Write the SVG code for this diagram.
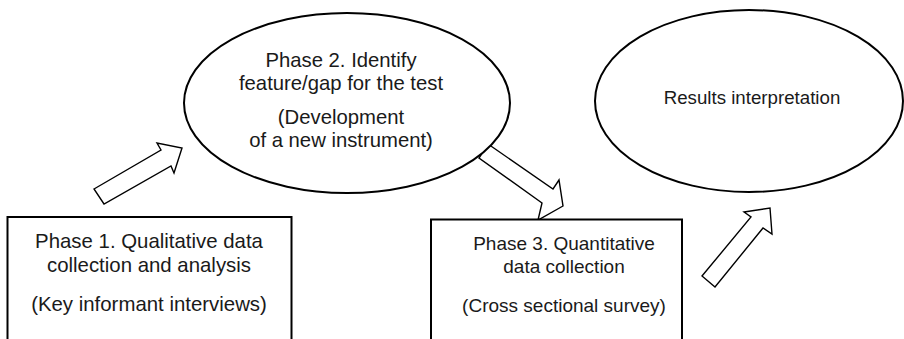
<svg xmlns="http://www.w3.org/2000/svg" width="904" height="339" viewBox="0 0 904 339">
  <style>
    .shape { fill: #ffffff; stroke: #000000; stroke-width: 2; }
    .arrow { fill: #ffffff; stroke: #000000; stroke-width: 1.4; stroke-linejoin: miter; }
    .label { font-family: "Liberation Sans", Arial, sans-serif; fill: #1a1a1a; text-anchor: middle; }
  </style>
  <rect width="904" height="339" fill="#ffffff"/>

  <!-- block arrows between the phases -->
  <g id="connectors">
    <polygon class="arrow" points="94,189 161,150 157,143 182,148 174,173 171,166 104,204"/>
    <polygon class="arrow" points="488,144 553,189 559,180 563,206 538,220 542,203 479,158"/>
    <polygon class="arrow" points="702,276 751,217 744,212 770,208 772,234 763,228 715,287"/>
  </g>

  <g id="phase1">
    <rect class="shape" x="7.5" y="217" width="284" height="140"/>
    <text class="label" font-size="20.4" x="149" y="248">Phase 1. Qualitative data</text>
    <text class="label" font-size="20.4" x="149" y="272">collection and analysis</text>
    <text class="label" font-size="20.4" x="149" y="311">(Key informant interviews)</text>
  </g>

  <g id="phase2">
    <ellipse class="shape" cx="347" cy="103" rx="163" ry="90"/>
    <text class="label" font-size="20.3" x="341" y="67">Phase 2. Identify</text>
    <text class="label" font-size="20.3" x="341" y="90">feature/gap for the test</text>
    <text class="label" font-size="20.3" x="341" y="124">(Development</text>
    <text class="label" font-size="20.3" x="341" y="147">of a new instrument)</text>
  </g>

  <g id="phase3">
    <rect class="shape" x="431" y="219.5" width="251" height="140"/>
    <text class="label" font-size="19" x="564" y="250">Phase 3. Quantitative</text>
    <text class="label" font-size="19" x="564" y="273">data collection</text>
    <text class="label" font-size="19" x="564" y="312">(Cross sectional survey)</text>
  </g>

  <g id="results">
    <ellipse class="shape" cx="749" cy="101" rx="154" ry="91"/>
    <text class="label" font-size="18.7" x="752" y="104">Results interpretation</text>
  </g>
</svg>
